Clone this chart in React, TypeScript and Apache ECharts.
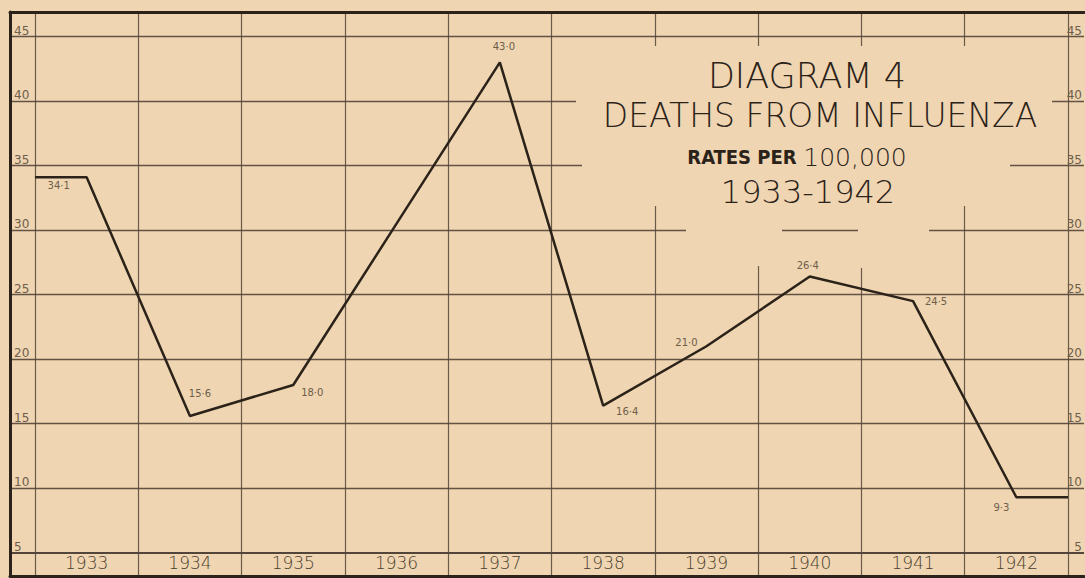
import React, { useEffect, useRef } from "react";
import * as echarts from "echarts";

// ---- data ----
const years = ["1933", "1934", "1935", "1936", "1937", "1938", "1939", "1940", "1941", "1942"];
const rates = [34.1, 15.6, 18.0, 30.5, 43.0, 16.4, 21.0, 26.4, 24.5, 9.3];
const rateLabels = ["34·1", "15·6", "18·0", "", "43·0", "16·4", "21·0", "26·4", "24·5", "9·3"];
const yTickValues = [5, 10, 15, 20, 25, 30, 35, 40, 45];
const yRange = [3.2, 46.9];

// ---- styling (label nudges, not data) ----
const labelNudge: number[][] = [
  [-28, 8], [10, -22], [19, 8], [0, 0], [4, -16], [24, 6], [-20, -4], [-2, -11], [23, 0], [-15, 10],
];

const PAPER = "#efd5b1";
const INK = "#2b2219";
const GRID = "#54453a";
const LABEL = "#6e5e4b";

export default function App() {
  const ref = useRef<HTMLDivElement>(null);

  useEffect(() => {
    if (!ref.current) return;
    const chart = echarts.init(ref.current, undefined, { renderer: "svg" });

    const n = years.length;
    const lineData: any[] = [];
    lineData.push({ value: [0, rates[0]], label: { show: false } });
    years.forEach((_, i) => {
      lineData.push({
        value: [i + 0.5, rates[i]],
        label: {
          show: rateLabels[i] !== "",
          formatter: rateLabels[i],
          offset: labelNudge[i],
        },
      });
    });
    lineData.push({ value: [n, rates[n - 1]], label: { show: false } });

    const yLabelFmt = (v: number) => (yTickValues.indexOf(Math.round(v * 100) / 100) >= 0 ? String(v) : "");

    const option: any = {
      animation: false,
      backgroundColor: PAPER,
      grid: [
        { left: 10, right: 0, top: 12, bottom: 2 },
        { left: 35, right: 17, top: 12, bottom: 2 },
      ],
      xAxis: [
        {
          gridIndex: 0, type: "value", min: 0, max: 1, position: "top",
          axisLine: { show: true, lineStyle: { color: INK, width: 3 } },
          axisTick: { show: false }, axisLabel: { show: false }, splitLine: { show: false },
        },
        {
          gridIndex: 0, type: "value", min: 0, max: 1, position: "bottom",
          axisLine: { show: true, lineStyle: { color: INK, width: 3 } },
          axisTick: { show: false }, axisLabel: { show: false }, splitLine: { show: false },
        },
        {
          gridIndex: 1, type: "category", data: years, position: "bottom", boundaryGap: true,
          axisLine: { show: false }, axisTick: { show: false },
          axisLabel: {
            inside: true, margin: 5, fontSize: 17, color: "#4a3d2f",
            fontFamily: "DejaVu Sans", fontWeight: 300,
          },
          splitLine: {
            show: true, interval: 0, showMinLine: true, showMaxLine: true,
            lineStyle: { color: GRID, width: 1.2, opacity: 0.85 },
          },
        },
        { gridIndex: 1, type: "value", min: 0, max: n, show: false },
      ],
      yAxis: [
        {
          gridIndex: 0, type: "value", min: yRange[0], max: yRange[1], splitNumber: 9,
          minInterval: 5, maxInterval: 5, position: "left",
          axisLine: { show: true, lineStyle: { color: INK, width: 3 } },
          axisTick: { show: false },
          axisLabel: {
            inside: true, margin: 4, fontSize: 12, color: LABEL, verticalAlign: "bottom",
            fontFamily: "DejaVu Sans", formatter: yLabelFmt,
          },
          splitLine: { show: false },
        },
        {
          gridIndex: 0, type: "value", min: yRange[0], max: yRange[1], splitNumber: 9,
          minInterval: 5, maxInterval: 5, position: "right",
          axisLine: { show: false }, axisTick: { show: false },
          axisLabel: {
            inside: true, margin: 2, fontSize: 12, color: LABEL, verticalAlign: "bottom",
            fontFamily: "DejaVu Sans", formatter: yLabelFmt,
          },
          splitLine: { show: false },
        },
        { gridIndex: 1, type: "value", min: yRange[0], max: yRange[1], show: false },
      ],
      graphic: [
        // areas where the grid was left blank behind the title
        { type: "rect", z: 1, shape: { x: 576, y: 46, width: 476, height: 112 }, style: { fill: PAPER } },
        { type: "rect", z: 1, shape: { x: 582, y: 158, width: 428, height: 48 }, style: { fill: PAPER } },
        { type: "rect", z: 1, shape: { x: 686, y: 206, width: 96, height: 60 }, style: { fill: PAPER } },
        { type: "rect", z: 1, shape: { x: 858, y: 206, width: 71, height: 62 }, style: { fill: PAPER } },
        {
          type: "text", z: 5, x: 807, y: 76,
          style: {
            text: "DIAGRAM 4", fill: INK, fontSize: 35, fontFamily: "DejaVu Sans", fontWeight: 300,
            align: "center", verticalAlign: "middle", textAlign: "center", textVerticalAlign: "middle",
          },
        },
        {
          type: "text", z: 5, x: 820, y: 115,
          style: {
            text: "DEATHS FROM INFLUENZA", fill: INK, fontSize: 33, fontFamily: "DejaVu Sans", fontWeight: 300,
            align: "center", verticalAlign: "middle", textAlign: "center", textVerticalAlign: "middle",
          },
        },
        {
          type: "text", z: 5, x: 797, y: 157,
          style: {
            text: "{a|RATES PER}  {b|100,000}", fill: INK,
            align: "center", verticalAlign: "middle", textAlign: "center", textVerticalAlign: "middle",
            rich: {
              a: { fontSize: 20, fontWeight: "bold", fontFamily: "DejaVu Sans Condensed", fill: INK, color: INK },
              b: { fontSize: 25, fontWeight: 300, fontFamily: "DejaVu Sans", fill: INK, color: INK },
            },
          },
        },
        {
          type: "text", z: 5, x: 808, y: 192,
          style: {
            text: "1933-1942", fill: INK, fontSize: 32, fontFamily: "DejaVu Sans", fontWeight: 300,
            align: "center", verticalAlign: "middle", textAlign: "center", textVerticalAlign: "middle",
          },
        },
      ],
      series: [
        {
          // horizontal rulings of the squared paper, across the full frame
          type: "line",
          xAxisIndex: 0,
          yAxisIndex: 0,
          data: [],
          z: 0,
          silent: true,
          clip: false,
          markLine: {
            silent: true,
            z: 0,
            symbol: ["none", "none"],
            label: { show: false },
            lineStyle: { color: GRID, width: 1.4, opacity: 0.9, type: "solid" },
            data: yTickValues.map((v) =>
              v === yTickValues[0]
                ? { yAxis: v, lineStyle: { color: GRID, width: 2, opacity: 1 } }
                : { yAxis: v }
            ),
          },
        },
        {
          type: "line",
          xAxisIndex: 3,
          yAxisIndex: 2,
          data: lineData,
          symbol: "circle",
          symbolSize: 1,
          showSymbol: true,
          itemStyle: { color: "transparent" },
          lineStyle: { color: INK, width: 2.5 },
          z: 4,
          label: {
            show: true, position: "inside", fontSize: 10, color: LABEL, fontFamily: "DejaVu Sans",
          },
        },
      ],
    };

    chart.setOption(option);
    return () => chart.dispose();
  }, []);

  return (
    <div
      ref={ref}
      style={{ position: "absolute", left: 0, top: 0, width: 1085, height: 578 }}
    />
  );
}
